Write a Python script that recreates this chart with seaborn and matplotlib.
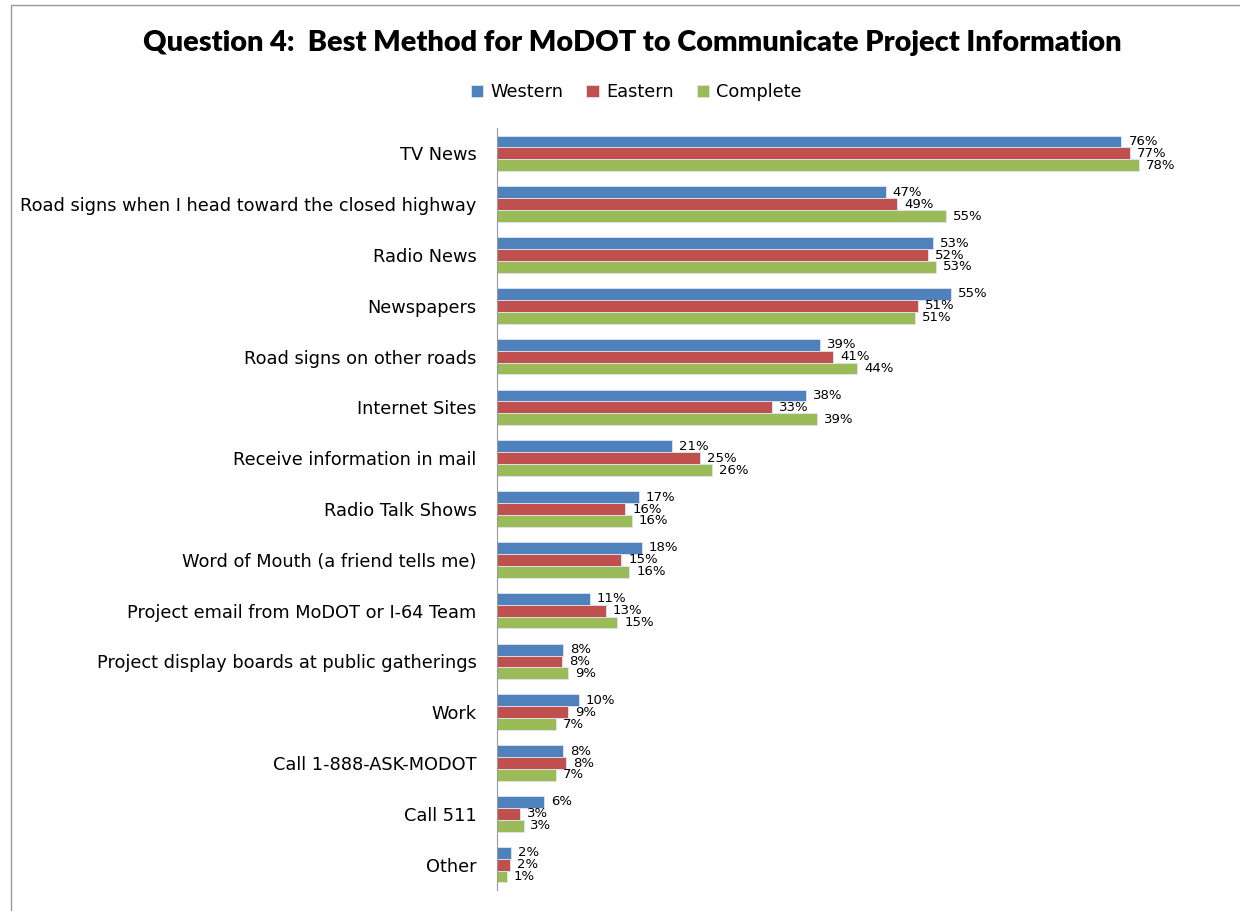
import pandas as pd
import seaborn as sns
import matplotlib.pyplot as plt
from matplotlib.patches import Rectangle

categories = ['TV News', 'Road signs when I head toward the closed highway', 'Radio News',
              'Newspapers', 'Road signs on other roads', 'Internet Sites',
              'Receive information in mail', 'Radio Talk Shows',
              'Word of Mouth (a friend tells me)', 'Project email from MoDOT or I-64 Team',
              'Project display boards at public gatherings', 'Work', 'Call 1-888-ASK-MODOT',
              'Call 511', 'Other']
western = [76.0, 47.3, 53.1, 55.2, 39.3, 37.6, 21.3, 17.2, 17.6, 11.3, 8.0, 9.9, 8.0, 5.7, 1.7]
eastern = [77.0, 48.7, 52.4, 51.2, 40.9, 33.4, 24.7, 15.6, 15.1, 13.2, 7.9, 8.6, 8.4, 2.8, 1.6]
complete = [78.1, 54.6, 53.4, 50.9, 43.8, 38.9, 26.1, 16.4, 16.1, 14.6, 8.6, 7.1, 7.1, 3.2, 1.2]
series = ['Western', 'Eastern', 'Complete']
colors = ['#4F81BD', '#C0504D', '#9BBB59']

df = pd.DataFrame({'Method': categories, 'Western': western, 'Eastern': eastern, 'Complete': complete})
df = df.melt(id_vars='Method', var_name='Region', value_name='Pct')

sns.set_style('white')
plt.rcParams['font.family'] = ['DejaVu Sans']
plt.rcParams['text.color'] = 'black'
plt.rcParams['ytick.color'] = 'black'

fig = plt.figure(figsize=(12.4, 9.11), dpi=100)
ax = fig.add_axes([0.401, 0.023, 0.563, 0.8365])

sns.barplot(data=df, y='Method', x='Pct', hue='Region', hue_order=series,
            palette=colors, orient='h', width=0.7, ax=ax,
            edgecolor='#dde6f0', linewidth=0.6, saturation=1)

# value labels, rounded like the original
for cont in ax.containers:
    ax.bar_label(cont, labels=[f'{round(v)}%' for v in cont.datavalues],
                 padding=5, fontsize=9.5, color='black')

ax.set_xlim(0, 85)
ax.set_xlabel('')
ax.set_ylabel('')
ax.set_xticks([])
ax.tick_params(axis='y', length=0, pad=15, labelsize=12.8, labelcolor='black')
for s in ['top', 'right', 'bottom']:
    ax.spines[s].set_visible(False)
ax.spines['left'].set_color('#999999')

ax.legend(loc='center', bbox_to_anchor=(0.513, 0.899), bbox_transform=fig.transFigure,
          ncol=3, frameon=False, fontsize=12.8, handlelength=0.7, handleheight=0.7,
          columnspacing=1.3, handletextpad=0.4)

fig.text(0.51, 0.953, 'Question 4:  Best Method for MoDOT to Communicate Project Information',
         ha='center', va='center', fontsize=20.8, fontweight='heavy', family='Lato',
         color='black')

fig.add_artist(Rectangle((0.009, -0.01), 1.2, 1.004, transform=fig.transFigure,
                         fill=False, edgecolor='#999999', linewidth=1))

fig.savefig('out.png', dpi=100)
